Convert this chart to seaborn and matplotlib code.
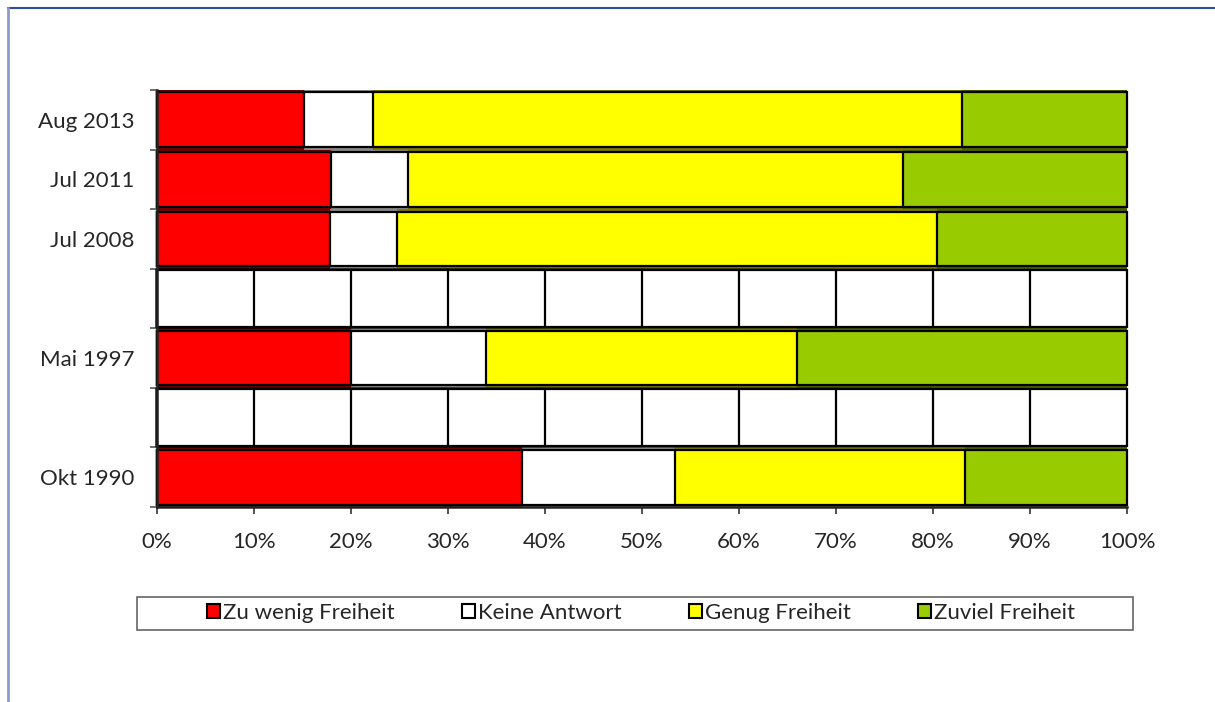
import numpy as np
import pandas as pd
import seaborn as sns
import matplotlib.pyplot as plt
from matplotlib.lines import Line2D
from matplotlib.patches import Patch, Rectangle

# ---------------- data ----------------
rows = ["Aug 2013", "Jul 2011", "Jul 2008", "", "Mai 1997", "", "Okt 1990"]
series_names = ["Zu wenig Freiheit", "Keine Antwort", "Genug Freiheit", "Zuviel Freiheit"]
zu_wenig = [15.2, 17.9, 17.8, np.nan, 20.0, np.nan, 37.6]
keine_antwort = [7.1, 8.0, 6.9, np.nan, 13.9, np.nan, 15.8]
genug = [60.7, 51.0, 55.7, np.nan, 32.1, np.nan, 29.9]
zuviel = [17.0, 23.1, 19.6, np.nan, 34.0, np.nan, 16.7]
blank_rows = [3, 5]            # rows without data, drawn as empty cells
blank_cells = [10] * 10        # ten 10% cells
colors = ["#FF0000", "#FFFFFF", "#FFFF00", "#99CC00"]
shade_colors = ["#7A0000", "#8A8A8A", "#7A7A00", "#4A6300"]
xticks = list(range(0, 101, 10))

# ---------------- style ----------------
sns.set_style("white")
plt.rcParams["font.family"] = ["Lato", "DejaVu Sans"]
FS = 16

fig = plt.figure(figsize=(12.15, 7.02), dpi=100)
ax = fig.add_axes([157 / 1215, 195 / 702, 970 / 1215, 417 / 702])

ids = [f"r{i}" for i in range(len(rows))]
df = pd.DataFrame({"row": ids, series_names[0]: zu_wenig, series_names[1]: keine_antwort,
                   series_names[2]: genug, series_names[3]: zuviel})
cum = df[series_names].cumsum(axis=1)

base = dict(orient="y", order=ids, saturation=1, errorbar=None, ax=ax)

# stacked bars: draw cumulative totals from the largest to the smallest
for name, col, sh in reversed(list(zip(series_names, colors, shade_colors))):
    d = pd.DataFrame({"row": df["row"], "val": cum[name]}).dropna()
    sns.barplot(data=d, x="val", y="row", color=sh, width=1.0, linewidth=0, **base)
    sns.barplot(data=d, x="val", y="row", color=col, width=0.92, edgecolor="black",
                linewidth=1.6, **base)

# empty rows: ten white cells each
cells_cum = np.cumsum(blank_cells)
for c in cells_cum[::-1]:
    d = pd.DataFrame({"row": [ids[i] for i in blank_rows], "val": [c] * len(blank_rows)})
    sns.barplot(data=d, x="val", y="row", color="white", width=0.96, edgecolor="black",
                linewidth=1.6, **base)

for p in ax.patches:
    p.set_clip_on(False)

ax.set_xlim(0, 100)
ax.set_ylim(len(rows) - 0.5, -0.5)
ax.set_xlabel("")
ax.set_ylabel("")
ax.set_xticks(xticks)
ax.set_xticklabels([f"{v}%" for v in xticks], fontsize=FS)
ax.set_yticks(range(len(rows)))
ax.set_yticklabels(rows, fontsize=FS)
ax.set_yticks(np.arange(-0.5, len(rows), 1.0), minor=True)
ax.tick_params(axis="y", which="major", length=0, pad=16)
ax.tick_params(axis="y", which="minor", length=5, width=1.2, color="#555555", left=True)
ax.tick_params(axis="x", which="major", length=5, width=1.2, color="#333333", pad=13, bottom=True)
for s in ["top", "right"]:
    ax.spines[s].set_visible(False)
for s in ["left", "bottom"]:
    ax.spines[s].set_color("#222222")
    ax.spines[s].set_linewidth(1.8)
ax.grid(False)

# legend box and legend
fig.add_artist(Rectangle((137 / 1215, 72 / 702), 996 / 1215, 33 / 702, transform=fig.transFigure,
                         facecolor="white", edgecolor="#666666", linewidth=1.2))
handles = [Patch(facecolor=c, edgecolor="black", linewidth=1.5, label=n)
           for n, c in zip(series_names, colors)]
leg = fig.legend(handles=handles, loc="center", ncol=4,
                 bbox_to_anchor=(641 / 1215, 1 - 613 / 702),
                 frameon=False, fontsize=FS,
                 handlelength=0.6, handleheight=0.6, handletextpad=0.15,
                 columnspacing=3.0, borderpad=0.2, borderaxespad=0)

# outer frame lines
fig.add_artist(Line2D([8 / 1215, 1], [1 - 8 / 702, 1 - 8 / 702], transform=fig.transFigure,
                      color="#2E4FA0", lw=1.5))
fig.add_artist(Line2D([8 / 1215, 8 / 1215], [0, 1 - 8 / 702], transform=fig.transFigure,
                      color="#8C9AD0", lw=2))

fig.savefig("out.png", dpi=100)
